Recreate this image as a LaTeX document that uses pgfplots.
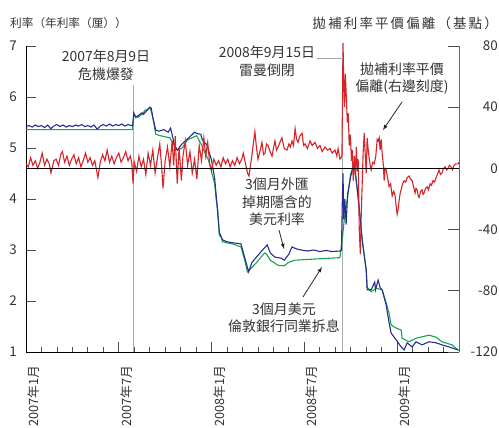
\documentclass[border=0pt]{standalone}
\usepackage{pgfplots}
\pgfplotsset{compat=1.18}
\usepackage{fontspec}
\setmainfont{Noto Sans CJK TC}
\newfontfamily\spacedcjk[LetterSpace=16]{Noto Sans CJK TC}
\definecolor{redl}{RGB}{215,35,40}
\definecolor{bluel}{RGB}{40,45,145}
\definecolor{greenl}{RGB}{20,165,75}
\definecolor{grayl}{RGB}{170,170,170}
\definecolor{txt}{RGB}{51,51,51}
\newcommand\tickfont{\fontsize{13.5}{14}\selectfont}
\newcommand\xtickfont{\fontsize{12.8}{13}\selectfont}
\newcommand\notefont{\fontsize{14}{17.5}\selectfont}

\begin{document}
\begin{tikzpicture}
\path[use as bounding box] (0,0) rectangle (499bp,428bp);

% left axis: interest rates
\begin{axis}[
  at={(26bp,76bp)}, anchor=south west,
  width=433bp, height=306bp, scale only axis,
  xmin=0, xmax=28, ymin=1, ymax=7,
  axis x line=bottom, axis y line=left,
  axis line style={black, line width=1bp, -},
  xtick={0,6,12,18,24},
  xticklabels={2007年1月,2007年7月,2008年1月,2008年7月,2009年1月},
  minor xtick={1,...,28},
  ytick={1,...,7},
  yticklabels={1,2,3,4,5,6,7},
  tick align=inside,
  major tick length=9.5bp, minor tick length=5bp,
  tick style={black!70, line width=0.8bp},
  xticklabel style={rotate=90, anchor=north east, inner sep=1.5bp, font=\xtickfont, text=txt},
  xticklabel shift=12bp,
  yticklabel style={inner sep=0pt, font=\tickfont, text=txt},
  yticklabel shift=9bp,
  clip=false,
]
\draw[grayl, line width=1bp] (axis cs:6.92,1) -- (axis cs:6.92,6.24);
\draw[grayl, line width=1bp] (axis cs:20.48,1) -- (axis cs:20.48,6.75);

% 3-month USD LIBOR
\addplot[greenl, line width=1.1bp] coordinates {
(0,5.36) (6.88,5.36) (6.97,5.64) (7.23,5.60) (7.5,5.66) (7.7,5.74) (8.04,5.78)
(8.2,5.6) (8.39,5.27) (8.7,5.24) (9.3,5.20) (9.77,4.96) (10.1,5.0) (10.45,5.16)
(11.03,5.24) (11.35,5.06) (11.8,4.76) (12.2,4.3) (12.3,3.98) (12.4,3.78)
(12.5,3.29) (12.65,3.24) (12.7,3.16) (13.35,3.12) (13.9,3.06) (14.1,2.85)
(14.32,2.57) (14.9,2.75) (15.42,2.94) (15.55,2.92) (15.8,2.80) (16.3,2.70)
(16.7,2.69) (17.0,2.76) (17.4,2.80) (18.5,2.82) (20.3,2.85) (20.45,3.2)
(20.58,3.59) (20.77,3.98) (21.0,4.5) (21.23,4.7) (21.42,4.18) (21.55,3.84)
(21.74,3.2) (22.0,2.61) (22.06,2.27) (22.32,2.18) (22.65,2.25) (23.03,2.22)
(23.29,1.96) (23.48,1.76) (23.61,1.53) (23.93,1.47) (24.26,1.43) (24.32,1.27)
(24.77,1.2) (25.22,1.27) (26.06,1.33) (26.52,1.29) (26.9,1.2) (27.55,1.14)
(27.94,1.04) (28,1.03)
};

% FX-swap implied USD rate
\addplot[bluel, line width=1.1bp] coordinates {
(0.0,5.42) (0.2,5.44) (0.4,5.41) (0.6,5.45) (0.8,5.42) (1.0,5.44) (1.2,5.40)
(1.4,5.45) (1.6,5.38) (1.8,5.43) (2.0,5.46) (2.2,5.42) (2.4,5.45) (2.6,5.41)
(2.8,5.44) (3.0,5.42) (3.2,5.45) (3.4,5.43) (3.6,5.46) (3.8,5.42) (4.0,5.44)
(4.2,5.41) (4.4,5.45) (4.6,5.37) (4.8,5.43) (5.0,5.46) (5.2,5.43) (5.4,5.47)
(5.6,5.43) (5.8,5.46) (6.0,5.44) (6.2,5.47) (6.4,5.43) (6.6,5.46) (6.8,5.44)
(6.9,5.45) (6.97,5.69) (7.1,5.6) (7.23,5.63) (7.5,5.69) (7.6,5.66) (8.0,5.8)
(8.1,5.78) (8.2,5.6) (8.39,5.35) (8.6,5.33) (8.9,5.36) (9.2,5.31) (9.35,5.39)
(9.5,5.2) (9.6,5.04) (9.8,4.96) (10.0,5.05) (10.3,5.14) (10.6,5.22) (10.9,5.31)
(11.1,5.28) (11.3,5.27) (11.4,5.16) (11.7,5.06) (12.0,4.76) (12.2,4.4)
(12.35,3.9) (12.5,3.35) (12.7,3.2) (13.0,3.16) (13.4,3.14) (13.9,3.12)
(14.1,2.9) (14.4,2.57) (14.6,2.75) (14.9,2.86) (15.3,3.0) (15.6,3.1) (15.8,2.94)
(16.1,2.86) (16.5,2.84) (16.7,2.8) (17.0,2.92) (17.2,3.06) (17.5,3.02)
(17.8,3.0) (18.2,2.98) (18.6,3.0) (19.0,2.97) (19.4,2.99) (19.8,2.97)
(20.3,2.98) (20.4,3.0) (20.45,3.9) (20.5,4.5) (20.55,3.6) (20.62,4.0)
(20.7,3.5) (20.8,4.1) (21.0,4.45) (21.23,4.7) (21.42,4.2) (21.55,3.8)
(21.74,3.2) (22.0,2.6) (22.06,2.22) (22.32,2.22) (22.55,2.37) (22.6,2.22)
(22.77,2.41) (22.9,2.26) (23.03,2.22) (23.29,1.92) (23.48,1.57) (23.61,1.37)
(23.93,1.24) (24.26,1.1) (24.45,1.04) (24.65,1.18) (24.97,1.1) (25.22,1.2)
(25.61,1.14) (26.06,1.2) (26.52,1.18) (26.9,1.14) (27.35,1.1) (27.94,1.04)
};
\end{axis}

% right axis: CIP deviation (basis points)
\begin{axis}[
  at={(26bp,76bp)}, anchor=south west,
  width=433bp, height=306bp, scale only axis,
  xmin=0, xmax=28, ymin=-120, ymax=80,
  axis x line=none, axis y line=right,
  axis line style={black!60, line width=1bp, -},
  ytick={-120,-80,-40,0,40,80},
  yticklabels={-120,-80,-40,0,40,80},
  tick align=inside, major tick length=11bp,
  tick style={black!70, line width=0.8bp},
  yticklabel style={anchor=east, inner sep=0pt, font=\tickfont, text=txt},
  yticklabel shift=39bp,
  clip=false,
]
\addplot[redl, line width=1.1bp] coordinates {
(0.00,3) (0.15,1) (0.30,7) (0.45,2) (0.60,5) (0.75,0) (0.90,4) (1.05,10)
(1.20,2) (1.35,6) (1.50,3) (1.62,-3) (1.80,5) (1.95,6) (2.10,2) (2.25,9)
(2.35,11) (2.50,4) (2.65,8) (2.80,2) (2.95,6) (3.10,9) (3.25,3) (3.40,7)
(3.55,1) (3.70,5) (3.85,10) (4.00,4) (4.15,7) (4.30,2) (4.45,5) (4.65,-6)
(4.80,4) (4.95,9) (5.10,5) (5.25,12) (5.40,4) (5.55,8) (5.70,3) (5.85,7)
(6.00,10) (6.15,4) (6.30,7) (6.45,11) (6.60,5) (6.75,8) (6.85,3) (6.92,-10)
(7.00,4) (7.15,-2) (7.30,8) (7.45,1) (7.60,6) (7.75,-4) (7.90,10) (8.05,2)
(8.20,12) (8.35,-3) (8.50,7) (8.65,16) (8.78,0) (8.86,-13) (9.00,5) (9.15,14)
(9.30,1) (9.45,18) (9.55,2) (9.65,21) (9.78,-10) (9.90,14) (10.05,-8) (10.15,8)
(10.30,18) (10.45,2) (10.60,11) (10.75,-3) (10.90,6) (11.05,-7) (11.20,15)
(11.35,5) (11.50,20) (11.62,8) (11.75,17) (11.88,3) (12.00,-1) (12.15,6)
(12.30,2) (12.45,5) (12.60,1) (12.75,7) (12.90,3) (13.05,6) (13.20,1) (13.35,5)
(13.50,2) (13.65,7) (13.80,3) (13.95,6) (14.05,10) (14.20,3) (14.32,-3)
(14.42,-5) (14.60,8) (14.80,24) (14.90,14) (15.00,6) (15.15,12) (15.26,17)
(15.36,9) (15.46,10) (15.55,16) (15.65,15) (15.78,11) (15.91,8) (16.00,13)
(16.10,18) (16.20,12) (16.30,14) (16.42,17) (16.55,20) (16.70,13) (16.88,12)
(17.00,16) (17.10,14) (17.20,18) (17.30,15) (17.40,26) (17.50,19) (17.59,17)
(17.70,21) (17.85,23) (17.95,15) (18.04,16) (18.20,13) (18.37,18) (18.50,15)
(18.69,17) (18.85,13) (19.01,15) (19.15,11) (19.34,14) (19.50,12) (19.66,13)
(19.80,10) (19.98,12) (20.10,8) (20.18,13) (20.30,6) (20.43,8)
(20.50,82) (20.55,55) (20.60,40) (20.65,62) (20.70,50) (20.78,30) (20.84,36)
(20.90,15) (20.97,22) (21.05,5) (21.10,12) (21.16,-8) (21.23,8) (21.30,-5)
(21.36,14) (21.42,-2) (21.48,6) (21.55,-40) (21.62,-56) (21.68,-30) (21.74,-10)
(21.80,10) (21.87,23) (21.94,8) (22.00,-3) (22.06,20) (22.13,12) (22.19,7)
(22.26,2) (22.32,-1) (22.42,4) (22.52,3) (22.62,8) (22.71,19) (22.78,18)
(22.84,20) (22.90,12) (22.97,19) (23.03,10) (23.10,3) (23.16,-8) (23.22,0)
(23.29,-1) (23.38,-6) (23.48,-12) (23.58,-10) (23.68,-18) (23.78,-15)
(23.87,-18) (23.94,-25) (24.00,-30) (24.06,-27) (24.13,-21) (24.20,-16)
(24.26,-14) (24.35,-10) (24.45,-8) (24.55,-9) (24.65,-6) (24.77,-5) (24.87,-7)
(24.97,-8) (25.06,-12) (25.16,-16) (25.22,-13) (25.29,-14) (25.36,-18)
(25.42,-19) (25.52,-15) (25.61,-14) (25.68,-17) (25.74,-16) (25.84,-13)
(25.94,-12) (26.03,-14) (26.13,-10) (26.22,-11) (26.32,-8) (26.42,-9)
(26.52,-6) (26.60,-4) (26.71,-1) (26.80,-4) (26.90,-3) (27.00,0) (27.10,1)
(27.20,-1) (27.29,0) (27.38,2) (27.48,1) (27.58,-1) (27.68,2) (27.80,3)
(27.94,3) (28.00,4)
};
\draw[black, line width=1.2bp] (axis cs:0,0) -- (axis cs:28,0);
\end{axis}

% titles
\node[anchor=west, inner sep=0pt, text=txt, font=\fontsize{11.7}{12}\selectfont] at (10bp,405bp) {利率（年利率（厘））};
\node[anchor=east, inner sep=0pt, text=txt, font=\spacedcjk\fontsize{13.5}{14}\selectfont] at (498bp,405bp) {拋補利率平價偏離（基點）};

% annotations
\node[align=center, inner sep=0pt, text=txt, font=\notefont] at (106bp,363bp) {2007年8月9日\\危機爆發};
\node[align=center, inner sep=0pt, text=txt, font=\notefont] at (267bp,367bp) {2008年9月15日\\雷曼倒閉};
\draw[grayl, line width=1bp] (317bp,369bp) -- (342.7bp,369bp);
\node[align=center, inner sep=0pt, text=txt, font=\notefont] at (402bp,349.5bp) {拋補利率平價\\偏離(右邊刻度)};
\draw[-latex, black!85, line width=0.8bp] (402bp,326bp) -- (383bp,298bp);
\node[align=center, inner sep=0pt, text=txt, font=\notefont] at (277bp,226bp) {3個月外匯\\掉期隱含的\\美元利率};
\draw[-latex, black!85, line width=0.8bp] (279bp,198bp) -- (284bp,179bp);
\node[align=center, inner sep=0pt, text=txt, font=\notefont] at (284bp,110.5bp) {3個月美元\\倫敦銀行同業拆息};
\draw[-latex, black!85, line width=0.8bp] (303bp,131bp) -- (322bp,161bp);
\end{tikzpicture}
\end{document}
